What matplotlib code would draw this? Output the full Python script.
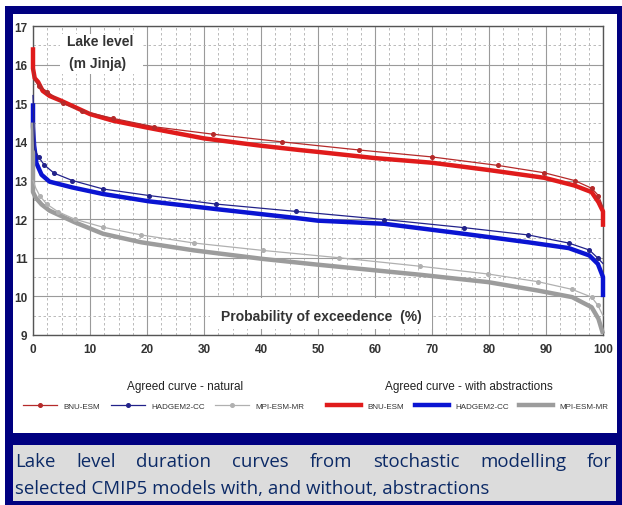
import numpy as np
import matplotlib.pyplot as plt
from matplotlib.patches import Rectangle
from matplotlib.lines import Line2D

W, H = 622, 506

# natural (thin lines with markers)
bnu_nat_x = [0, 0.3, 1, 2.5, 5.2, 8.6, 14, 21.3, 31.5, 43.7, 57.2, 70, 81.6, 89.7, 95, 98, 99.2, 100]
bnu_nat_y = [15.9, 15.6, 15.45, 15.3, 15.0, 14.8, 14.61, 14.39, 14.2, 14.0, 13.79, 13.61, 13.39, 13.2, 13.0, 12.8, 12.61, 12.3]
had_nat_x = [0, 0.3, 1, 2.0, 3.7, 6.9, 12.3, 20.4, 32.1, 46.1, 61.6, 75.6, 86.9, 94.0, 97.6, 99.1, 100]
had_nat_y = [15.2, 13.8, 13.6, 13.4, 13.19, 13.0, 12.78, 12.61, 12.39, 12.2, 11.99, 11.78, 11.59, 11.38, 11.2, 10.99, 10.85]
mpi_nat_x = [0, 0.5, 1.2, 2.4, 4.4, 7.3, 12.3, 19.0, 28.3, 40.3, 53.7, 67.9, 79.8, 88.6, 94.6, 98, 99.1, 100]
mpi_nat_y = [13.0, 12.8, 12.6, 12.39, 12.19, 12.0, 11.79, 11.59, 11.38, 11.19, 11.0, 10.78, 10.58, 10.38, 10.18, 9.98, 9.77, 9.5]

# with abstractions (thick lines)
bnu_abs_x = [0, 0, 0.3, 0.9, 1.7, 2.9, 5, 10, 14, 20, 30, 40, 46.7, 50, 60, 70, 80, 89.7, 95, 98, 99.2, 100, 100]
bnu_abs_y = [16.45, 15.9, 15.65, 15.55, 15.32, 15.19, 15.06, 14.72, 14.55, 14.37, 14.09, 13.9, 13.79, 13.74, 13.58,
             13.46, 13.27, 13.07, 12.87, 12.7, 12.44, 12.2, 11.8]
had_abs_x = [0, 0, 0.2, 0.6, 1.5, 2.9, 6.9, 12.3, 20.4, 32.1, 46.1, 50, 61.6, 75.6, 86.9, 94.0, 97.6, 99.1, 100, 100]
had_abs_y = [15.0, 14.4, 13.9, 13.45, 13.15, 12.97, 12.82, 12.65, 12.46, 12.26, 12.03, 11.96, 11.88, 11.62, 11.40,
             11.25, 11.06, 10.84, 10.5, 9.98]
mpi_abs_x = [0, 0, 0.5, 1.5, 2.9, 7.3, 12.3, 19.0, 28.3, 40.3, 50, 67.9, 79.8, 88.6, 94.6, 98, 99.2, 100]
mpi_abs_y = [14.5, 12.7, 12.55, 12.38, 12.22, 11.92, 11.62, 11.40, 11.19, 10.97, 10.82, 10.56, 10.37, 10.15, 9.98,
             9.72, 9.42, 9.03]

models = ["BNU-ESM", "HADGEM2-CC", "MPI-ESM-MR"]
thin_colors = ["#b52a2a", "#22228a", "#b0b0b0"]
thick_colors = ["#e01b1b", "#0a14d2", "#9c9c9c"]

caption = ["Lake level duration curves from stochastic modelling for",
           "selected CMIP5 models with, and without, abstractions"]

plt.rcParams['font.family'] = ['Liberation Sans', 'DejaVu Sans']

fig = plt.figure(figsize=(W / 100, H / 100), dpi=100)

def box(x0, y0, x1, y1, color):
    fig.add_artist(Rectangle((x0 / W, 1 - y1 / H), (x1 - x0) / W, (y1 - y0) / H,
                             transform=fig.transFigure, facecolor=color, edgecolor='none', zorder=-10))

box(5, 7, 622, 506, "#000080")
box(13, 15, 617, 434, "white")
box(13, 446, 616, 502, "#dcdcdc")

ax = fig.add_axes([33 / W, 1 - 336 / H, 570 / W, 309 / H])
ax.set_xlim(0, 100)
ax.set_ylim(9, 17)
ax.set_xticks(np.arange(0, 101, 10))
ax.set_yticks(np.arange(9, 18, 1))
ax.set_xticks(np.arange(0, 100, 2.5), minor=True)
ax.set_yticks(np.arange(9, 17, 0.5), minor=True)
ax.grid(which='major', color='#9a9a9a', lw=0.8)
ax.grid(which='minor', color='#b0b0b0', lw=0.6, ls=(0, (3, 3)))
ax.tick_params(which='both', length=0)
ax.tick_params(axis='x', pad=6)
ax.tick_params(axis='y', pad=4)
for lab in ax.get_xticklabels() + ax.get_yticklabels():
    lab.set_fontsize(8.5)
    lab.set_fontweight('bold')
    lab.set_color('#333333')
for s in ax.spines.values():
    s.set_color('#555555')
    s.set_linewidth(1.0)
ax.set_axisbelow(True)

nat = [(bnu_nat_x, bnu_nat_y), (had_nat_x, had_nat_y), (mpi_nat_x, mpi_nat_y)]
ab = [(bnu_abs_x, bnu_abs_y), (had_abs_x, had_abs_y), (mpi_abs_x, mpi_abs_y)]
for (x, y), c in zip(nat, thin_colors):
    ax.plot(x, y, color=c, lw=0.9, marker='o', ms=2.6, markevery=list(range(2, len(x) - 1)), zorder=4,
            clip_on=False)
for (x, y), c in zip(ab, thick_colors):
    ax.plot(x, y, color=c, lw=3.2, zorder=3, clip_on=False, solid_capstyle='butt')

# label boxes inside plot
ax.add_patch(Rectangle((4.7, 15.75), 14.6, 1.05, facecolor='white', edgecolor='none', zorder=2))
ax.text(11.7, 16.62, "Lake level", fontsize=10, fontweight='bold', color='#333333', ha='center', va='center', zorder=5)
ax.text(11.3, 16.05, "(m Jinja)", fontsize=10, fontweight='bold', color='#333333', ha='center', va='center', zorder=5)
ax.add_patch(Rectangle((31, 9.15), 39, 0.8, facecolor='white', edgecolor='none', zorder=2))
ax.text(50.6, 9.5, "Probability of exceedence  (%)", fontsize=10, fontweight='bold', color='#333333',
        ha='center', va='center', zorder=5)

# legends
h_nat = [Line2D([0, 0.5, 1], [0, 0, 0], color=c, lw=0.9, marker='o', ms=2.6, markevery=[1]) for c in thin_colors]
h_abs = [Line2D([], [], color=c, lw=3.2) for c in thick_colors]
leg_kw = dict(ncol=3, frameon=False, fontsize=5.8, handlelength=4.2, columnspacing=1.3, handletextpad=0.8,
              loc='center')
l1 = fig.legend(h_nat, models, bbox_to_anchor=(164 / W, 1 - 407 / H), **leg_kw)
l2 = fig.legend(h_abs, models, bbox_to_anchor=(468 / W, 1 - 407 / H), **leg_kw)
for lg in (l1, l2):
    for t in lg.get_texts():
        t.set_color('#333333')
fig.text(185 / W, 1 - 387 / H, "Agreed curve - natural", fontsize=8.5, color='#222222', ha='center', va='center')
fig.text(469 / W, 1 - 387 / H, "Agreed curve - with abstractions", fontsize=8.5, color='#222222',
         ha='center', va='center')

# caption, first line justified between the panel edges
cap_kw = dict(fontsize=13.4, color='#0c2a66', family=['Open Sans', 'DejaVu Sans'], va='center')
renderer = fig.canvas.get_renderer()
words = caption[0].split()
texts = [fig.text(0, 1 - 462 / H, w, **cap_kw) for w in words]
widths = [t.get_window_extent(renderer).width for t in texts]
left, right = 15, 612
gap = (right - left - sum(widths)) / (len(words) - 1)
x = left
for t, w in zip(texts, widths):
    t.set_x(x / W)
    x += w + gap
fig.text(left / W, 1 - 489 / H, caption[1], **cap_kw)

fig.savefig("out.png", dpi=100)
